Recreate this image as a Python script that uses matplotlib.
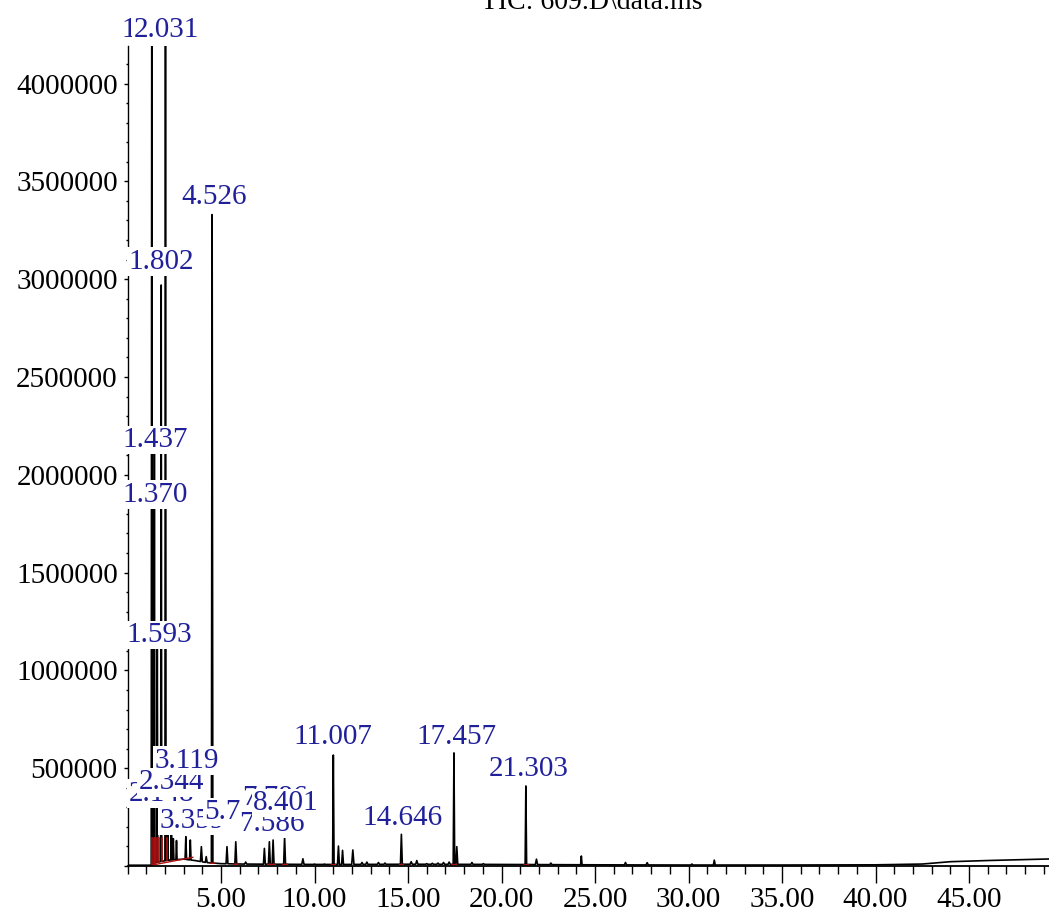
import numpy as np
import matplotlib
matplotlib.use("Agg")
import matplotlib.pyplot as plt
from matplotlib.ticker import MultipleLocator, FixedLocator

# ---------------------------------------------
# TIC data: peaks (retention time in min, apex abundance)
# ---------------------------------------------
peak_rt = [1.298, 1.370, 1.437, 1.593, 1.802, 2.031, 2.148, 2.344, 2.45, 2.62,
           3.119, 3.359, 3.95, 4.21, 4.526, 5.32, 5.790, 6.32, 7.32, 7.586,
           7.786, 8.401, 9.38, 10.00, 10.53, 11.007, 11.28, 11.50, 12.05, 12.54,
           12.80, 13.42, 13.77, 14.646, 15.17, 15.47, 16.00, 16.30, 16.60, 16.90,
           17.20, 17.457, 17.61, 18.42, 19.03, 21.303, 21.87, 22.64, 24.27, 26.63,
           27.79, 30.18, 31.38]
peak_height = [4.6e6, 1.85e6, 2.12e6, 1.12e6, 2.97e6, 4.6e6, 3.6e5, 4.2e5, 1.4e5, 1.3e5,
               1.5e5, 1.33e5, 9.9e4, 4.8e4, 3.33e6, 9.9e4, 1.24e5, 2.0e4, 9.0e4, 1.24e5,
               1.33e5, 1.5e5, 3.7e4, 1.0e4, 1.0e4, 5.67e5, 1.02e5, 8.0e4, 8.2e4, 1.8e4,
               2.0e4, 1.8e4, 1.5e4, 1.62e5, 2.2e4, 2.8e4, 1.2e4, 1.4e4, 1.5e4, 1.8e4,
               2.0e4, 5.78e5, 9.9e4, 1.8e4, 1.2e4, 4.09e5, 3.5e4, 1.5e4, 5.1e4, 1.8e4,
               1.7e4, 1.0e4, 3.0e4]
peak_halfwidth = [0.03, 0.03, 0.03, 0.03, 0.03, 0.03, 0.03, 0.03, 0.03, 0.03,
                  0.04, 0.04, 0.05, 0.05, 0.04, 0.05, 0.05, 0.06, 0.05, 0.05,
                  0.05, 0.05, 0.06, 0.06, 0.06, 0.04, 0.05, 0.05, 0.06, 0.06,
                  0.06, 0.06, 0.06, 0.05, 0.06, 0.06, 0.06, 0.06, 0.06, 0.06,
                  0.06, 0.04, 0.05, 0.06, 0.06, 0.04, 0.06, 0.06, 0.04, 0.06,
                  0.06, 0.06, 0.05]

# baseline drift of the run
base_rt = [0.0, 1.2, 1.6, 2.2, 3.0, 3.6, 4.2, 5.0, 6.0, 8.0, 10.0, 12.0, 15.0,
           20.0, 25.0, 30.0, 35.0, 40.0, 42.5, 44.0, 46.0, 49.3]
base_level = [4e3, 4e3, 2.0e4, 3.0e4, 3.5e4, 2.8e4, 1.8e4, 1.2e4, 1.0e4, 9e3, 8e3, 8e3, 9e3,
              8e3, 6e3, 5e3, 5e3, 6e3, 1.0e4, 2.2e4, 2.8e4, 3.6e4]

# labelled peaks
label_rt = [1.298, 2.031, 4.526, 1.802, 1.437, 1.370, 1.593, 2.148, 2.344, 3.119,
            3.359, 5.790, 7.786, 7.586, 8.401, 11.007, 14.646, 17.457, 21.303]

# integration events (red marks)
drop_rt = [1.33, 1.40, 1.47, 1.56, 1.68, 1.86, 2.10]
drop_top = [1.45e5, 1.45e5, 1.45e5, 1.45e5, 1.45e5, 1.45e5, 1.45e5]
int_start = [1.23, 4.40, 5.70, 7.50, 7.70, 8.30, 10.90, 14.55, 17.35, 21.20]
int_end = [3.49, 4.65, 5.90, 7.68, 7.90, 8.55, 11.12, 14.75, 17.60, 21.45]

# ---------------------------------------------
# Build the trace from baseline + peaks
# ---------------------------------------------
xs, ys = [], []
for t, b in zip(base_rt, base_level):
    inside = any(abs(t - r) <= w for r, w in zip(peak_rt, peak_halfwidth))
    if not inside:
        xs.append(t)
        ys.append(b)
for r, h, w in zip(peak_rt, peak_height, peak_halfwidth):
    xs += [r - w, r, r + w]
    ys += [np.interp(r - w, base_rt, base_level), h, np.interp(r + w, base_rt, base_level)]
order = np.argsort(xs)
trace_x = np.array(xs)[order]
trace_y = np.array(ys)[order]

# label placement (data coords of the text centre)
label_xy = [(1.41, 4.274e6), (2.06, 4.274e6), (4.63, 3.42e6), (1.79, 3.088e6),
            (1.47, 2.178e6), (1.47, 1.897e6), (1.68, 1.181e6), (1.80, 3.70e5),
            (2.33, 4.29e5), (3.18, 5.37e5), (3.45, 2.30e5), (5.86, 2.76e5),
            (7.89, 3.50e5), (7.73, 2.15e5), (8.48, 3.22e5), (10.99, 6.59e5),
            (14.73, 2.45e5), (17.57, 6.59e5), (21.47, 4.96e5)]

# ---------------------------------------------
# Plot
# ---------------------------------------------
plt.rcParams["font.family"] = ["Liberation Serif", "DejaVu Serif"]

fig = plt.figure(figsize=(10.49, 9.16), dpi=100)
ax = fig.add_axes([127.5 / 1049, 50 / 916, (1049 - 127.5) / 1049, 820 / 916])

ax.plot(trace_x, trace_y, color="black", linewidth=1.2, zorder=2)

for r, top in zip(drop_rt, drop_top):
    b = np.interp(r, base_rt, base_level)
    ax.plot([r, r], [b, top], color="#b01010", linewidth=1.2, zorder=2.1)
for s, e in zip(int_start, int_end):
    ax.plot([s, e], [np.interp(s, base_rt, base_level) - 2e3, np.interp(e, base_rt, base_level) + 1.5e4 * (e - s > 1)],
            color="#b01010", linewidth=1.0, zorder=2.1)

for i, (rt, (lx, ly)) in enumerate(zip(label_rt, label_xy)):
    ax.text(lx, ly, f"{rt:.3f}", ha="center", va="center", fontsize=21,
            color="#20209a", clip_on=False, zorder=3 + i * 0.01,
            bbox=dict(facecolor="white", edgecolor="none", pad=1.0))

ax.set_xlim(0, (1049 - 127.5) / 18.7)
ax.set_ylim(0, 4.192e6)

ax.spines["top"].set_visible(False)
ax.spines["right"].set_visible(False)
ax.spines["left"].set_linewidth(1.0)
ax.spines["bottom"].set_linewidth(1.3)

ax.xaxis.set_major_locator(FixedLocator(np.arange(5, 50, 5)))
ax.xaxis.set_minor_locator(MultipleLocator(1))
ax.xaxis.set_major_formatter(lambda v, p: f"{v:.2f}")
ax.yaxis.set_major_locator(MultipleLocator(500000))
ax.yaxis.set_minor_locator(MultipleLocator(100000))
ax.yaxis.set_major_formatter(lambda v, p: "" if v == 0 else f"{int(v)}")

ax.tick_params(axis="x", which="major", length=12, width=1.0, pad=3, labelsize=21)
ax.tick_params(axis="x", which="minor", length=6, width=1.0)
ax.tick_params(axis="y", which="major", length=3, width=1.0, pad=4, labelsize=21)
ax.tick_params(axis="y", which="minor", length=1.5, width=1.0)

fig.text(592 / 1049, (916 - 9) / 916, "TIC: 609.D\\data.ms", ha="center",
         va="baseline", fontsize=20)

plt.savefig("out.png", dpi=100)
